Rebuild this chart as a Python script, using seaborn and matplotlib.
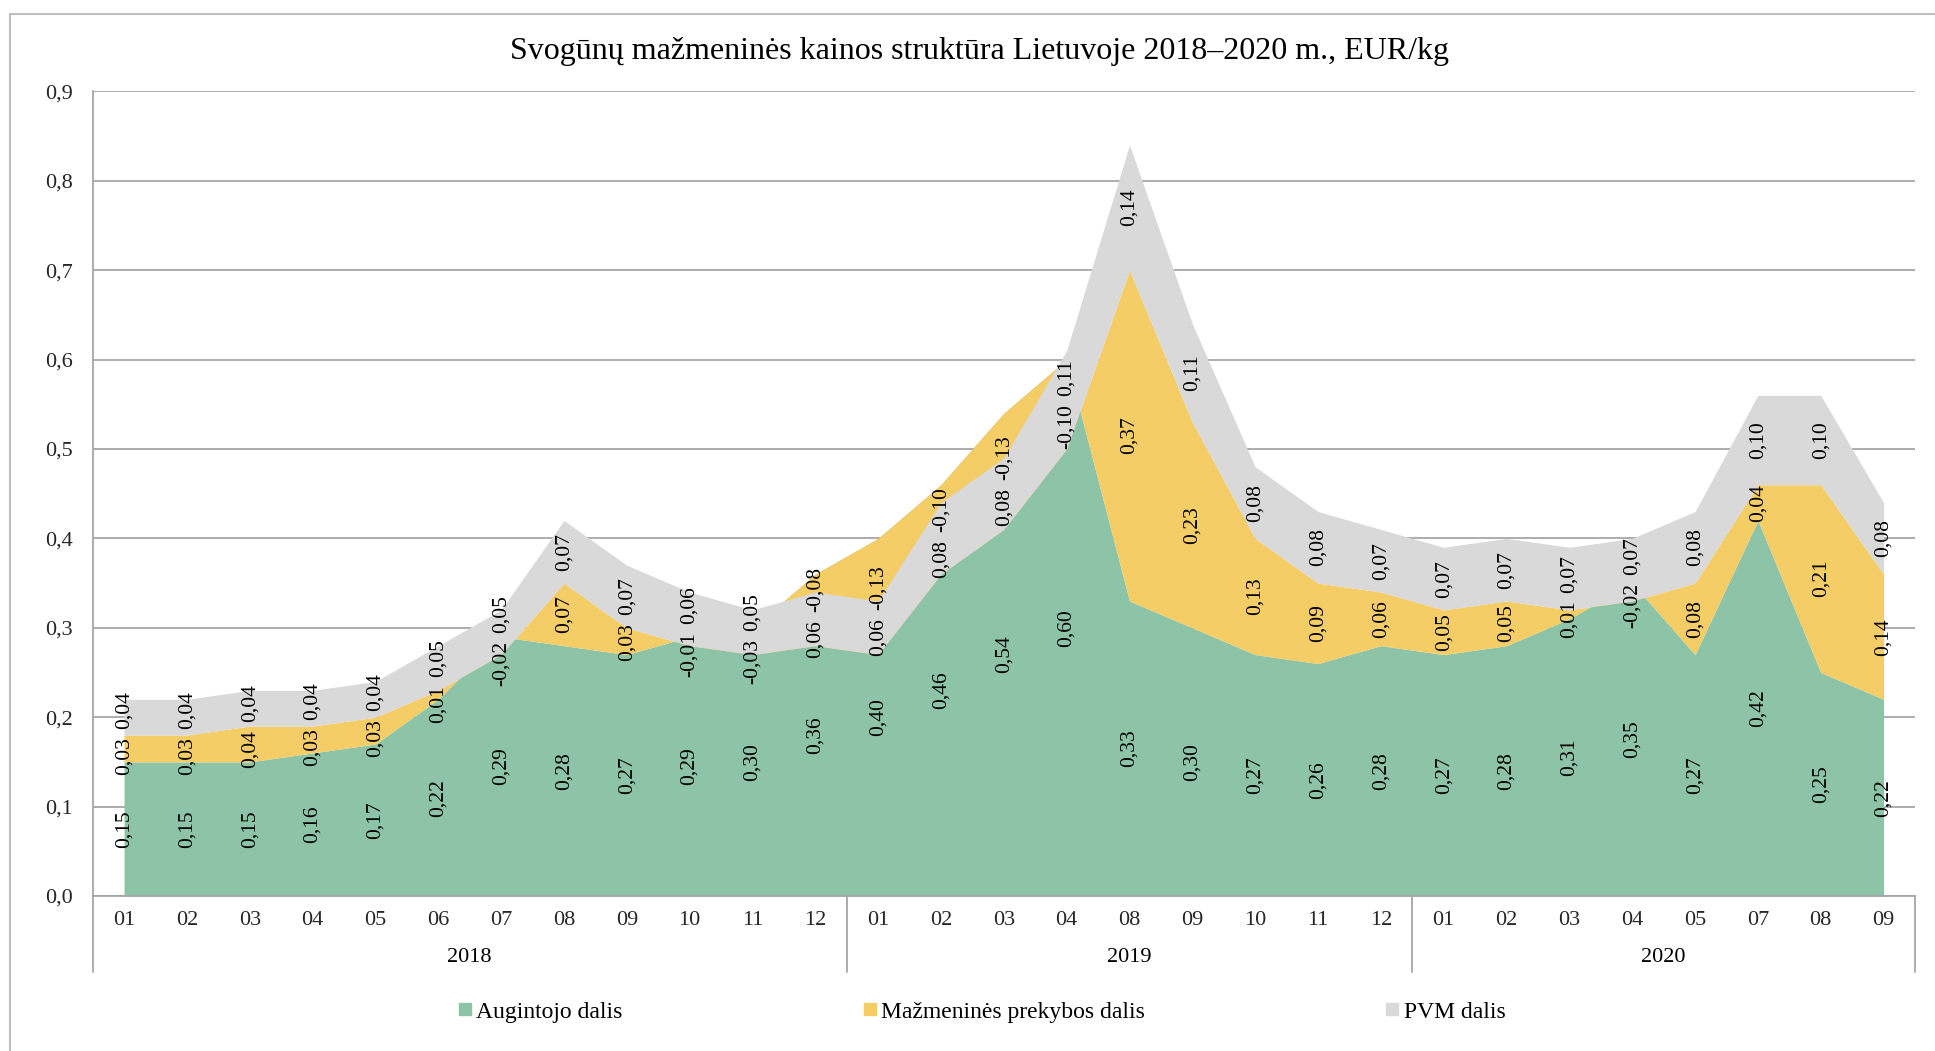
import matplotlib
matplotlib.use("Agg")
import matplotlib.pyplot as plt
import matplotlib.transforms as mtransforms
from matplotlib.patches import Rectangle
from matplotlib.lines import Line2D
import numpy as np
import seaborn as sns

# ---------------- data ----------------
months_2018 = ["01", "02", "03", "04", "05", "06", "07", "08", "09", "10", "11", "12"]
months_2019 = ["01", "02", "03", "04", "08", "09", "10", "11", "12"]
months_2020 = ["01", "02", "03", "04", "05", "07", "08", "09"]
years = ["2018", "2019", "2020"]

grower = [0.15, 0.15, 0.15, 0.16, 0.17, 0.22, 0.29, 0.28, 0.27, 0.29, 0.30, 0.36,
          0.40, 0.46, 0.54, 0.60, 0.33, 0.30, 0.27, 0.26, 0.28,
          0.27, 0.28, 0.31, 0.35, 0.27, 0.42, 0.25, 0.22]
retail = [0.03, 0.03, 0.04, 0.03, 0.03, 0.01, -0.02, 0.07, 0.03, -0.01, -0.03, -0.08,
          -0.13, -0.10, -0.13, -0.10, 0.37, 0.23, 0.13, 0.09, 0.06,
          0.05, 0.05, 0.01, -0.02, 0.08, 0.04, 0.21, 0.14]
vat = [0.04, 0.04, 0.04, 0.04, 0.04, 0.05, 0.05, 0.07, 0.07, 0.06, 0.05, 0.06,
       0.06, 0.08, 0.08, 0.11, 0.14, 0.11, 0.08, 0.08, 0.07,
       0.07, 0.07, 0.07, 0.07, 0.08, 0.10, 0.10, 0.08]
series_names = ["Augintojo dalis", "Mažmeninės prekybos dalis", "PVM dalis"]
title = "Svogūnų mažmeninės kainos struktūra Lietuvoje 2018–2020 m., EUR/kg"

# ---------------- style ----------------
colors = ["#8DC3A7", "#F5CD67", "#D9D9D9"]
grid_color = "#A6A6A6"
sns.set_theme(style="white")
plt.rcParams["font.family"] = ["Liberation Serif", "DejaVu Serif"]
plt.rcParams["text.color"] = "black"

months = months_2018 + months_2019 + months_2020
x = np.arange(len(months))

fig = plt.figure(figsize=(19.35, 10.51), dpi=100)
ax = fig.add_axes([92.6 / 1935, 1 - 896 / 1051, (1915 - 92.6) / 1935, (896 - 91.3) / 1051])

ax.stackplot(x, grower, retail, vat, colors=colors, zorder=2, linewidth=0)

ax.set_xlim(-0.5, len(months) - 0.5)
ax.set_ylim(0, 0.9)
ax.set_yticks(np.arange(0, 0.91, 0.1))
ax.set_yticklabels([f"{v:.1f}".replace(".", ",") for v in np.arange(0, 0.91, 0.1)], fontsize=16)
ax.set_xticks(x)
ax.set_xticklabels(months, fontsize=16)
ax.tick_params(axis="both", length=0)
ax.tick_params(axis="x", pad=11)
ax.tick_params(axis="y", pad=14)
ax.yaxis.grid(True, color=grid_color, linewidth=1.3, zorder=0)
ax.set_axisbelow(True)
for s in ["top", "right"]:
    ax.spines[s].set_visible(False)
for s in ["left", "bottom"]:
    ax.spines[s].set_color(grid_color)
    ax.spines[s].set_linewidth(1.3)

# data labels (centre of each stacked segment)
columns = [[] for _ in x]
cum = np.zeros(len(months))
for vals in (grower, retail, vat):
    vals = np.asarray(vals)
    for xi, base, v in zip(x, cum, vals):
        t = ax.text(xi, base + v / 2, f"{v:.2f}".replace(".", ","), rotation=90,
                    ha="center", va="center", fontsize=15.5, zorder=5)
        columns[xi].append(t)
    cum = cum + vals

# spread labels in each column apart where they would overlap
fig.canvas.draw()
renderer = fig.canvas.get_renderer()
gap_px = 8.0
for col in columns:
    pos = np.array([ax.transData.transform(t.get_position())[1] for t in col])
    half = np.array([t.get_window_extent(renderer).height / 2 for t in col])
    order = np.argsort(pos)
    p, h = pos[order].copy(), half[order]
    for _ in range(200):
        moved = False
        for i in range(len(p) - 1):
            d = (p[i + 1] - h[i + 1]) - (p[i] + h[i]) - gap_px
            if d < -1e-6:
                p[i] += d / 2
                p[i + 1] -= d / 2
                moved = True
        if not moved:
            break
    for k, idx in enumerate(order):
        t = col[idx]
        xd = t.get_position()[0]
        xpix = ax.transData.transform((xd, 0))[0]
        yd = ax.transData.inverted().transform((xpix, p[k]))[1]
        t.set_position((xd, yd))

# multi-level category axis: separators and years
trans = mtransforms.blended_transform_factory(ax.transData, ax.transAxes)
y_low = (896 - 972) / (896 - 91.3)
sizes = [len(months_2018), len(months_2019), len(months_2020)]
bounds = np.concatenate([[0], np.cumsum(sizes)]) - 0.5
for b in bounds:
    ax.add_line(Line2D([b, b], [0, y_low], transform=trans, color=grid_color,
                       linewidth=1.3, clip_on=False))
y_year = (896 - 958) / (896 - 91.3)
for yr, a, b in zip(years, bounds[:-1], bounds[1:]):
    ax.text((a + b) / 2, y_year, yr, transform=trans, ha="center", va="center", fontsize=16)

# title
fig.text(0.506, 1 - 52 / 1051, title, ha="center", va="center", fontsize=23)

# legend
handles = [Line2D([], [], marker="s", linestyle="none", markersize=9,
                  markerfacecolor=c, markeredgecolor=c) for c in colors]
fig.legend(handles, series_names, loc="center", bbox_to_anchor=(0.5075, 1 - 1012 / 1051),
           ncol=3, frameon=False, fontsize=17, handletextpad=0.2, columnspacing=10.2,
           handlelength=0.55)

# outer chart border
fig.patches.append(Rectangle((10 / 1935, -0.01), 1.02, 1 - 14 / 1051 + 0.01,
                             transform=fig.transFigure, fill=False,
                             edgecolor="#BFBFBF", linewidth=1.5))

fig.savefig("out.png", dpi=100, facecolor="white")
